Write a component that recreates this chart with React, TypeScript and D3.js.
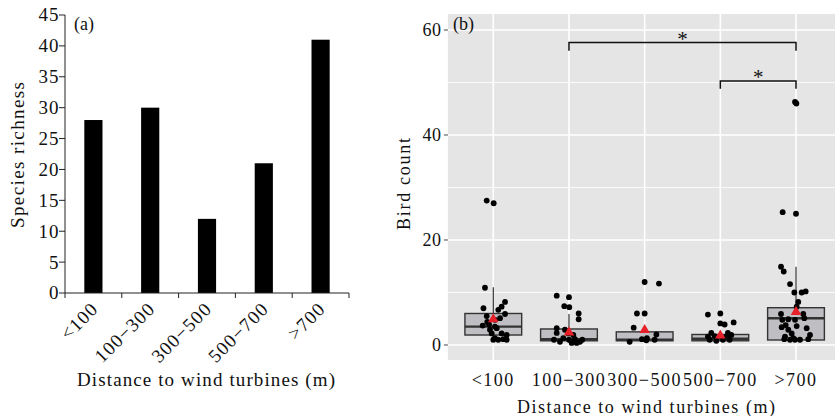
import React from 'react';
import * as d3 from 'd3';

// (a) 物種数
const catsA = ['<100', '100−300', '300−500', '500−700', '>700'];
const richness = [28, 30, 12, 21, 41];
const ticksA = [0, 5, 10, 15, 20, 25, 30, 35, 40, 45];

// (b) 個体数 boxplot
const catsB = ['<100', '100−300', '300−500', '500−700', '>700'];
const q1 = [1.9, 0.8, 0.8, 0.8, 0.95];
const medians = [3.5, 1.1, 1.0, 1.2, 5.1];
const q3 = [6.0, 3.05, 2.5, 2.0, 7.1];
const whiskerLo = [1.0, 0.4, 0.6, 0.8, 1.0];
const whiskerHi = [11, 5.9, 3.3, 2.3, 14.9];
const means = [4.9, 2.4, 2.85, 1.8, 6.3];
const ticksB = [0, 20, 40, 60];
const minorB = [10, 30, 50];

// jitter points: [value, jitter (in category units)]
const pts0 = [
  [27.5, -0.087], [27.0, 0.005], [10.9, -0.11], [8.2, 0.155], [7.3, 0.11], [7.0, -0.13], [6.7, 0.066],
  [5.9, 0.155], [5.1, 0.089], [5.5, -0.087], [4.4, -0.08], [4.8, 0.022], [3.7, -0.14], [3.9, -0.057],
  [3.5, 0.022], [2.9, -0.044], [3.2, 0.045], [2.2, -0.021], [2.2, 0.11], [1.9, 0.177], [1.3, 0.022],
  [1.1, 0.132], [1.0, 0], [1.0, 0.066], [1.0, 0.177],
];
const pts1 = [
  [9.4, -0.162], [9.1, 0], [7.4, -0.062], [7.2, 0.004], [6.0, 0.128], [4.9, 0.128], [3.2, -0.162],
  [2.3, -0.162], [2.9, -0.053], [2.2, -0.009], [1.9, 0.057], [1.0, -0.198], [1.3, -0.075], [1.0, 0],
  [1.1, 0.079], [0.6, 0.145], [1.0, 0.176], [0.6, -0.119], [0.4, 0.036], [0.4, 0.102],
];
const pts2 = [
  [12.0, 0], [11.7, 0.189], [6.0, -0.102], [6.0, 0], [3.3, -0.145], [2.0, 0.155], [0.6, -0.198],
  [1.1, -0.036], [1.3, 0.03], [1.0, 0.132], [0.9, 0.022],
];
const pts3 = [
  [5.8, -0.164], [6.0, 0], [4.1, 0], [3.9, 0.057], [4.3, 0.176], [2.3, -0.119], [2.3, 0.1],
  [1.6, -0.164], [1.7, -0.075], [1.6, 0.079], [1.9, 0.145], [1.0, -0.141], [0.8, -0.053],
  [1.0, 0.034], [1.0, 0.123],
];
const pts4 = [
  [46.3, -0.013], [46.0, 0.005], [25.3, -0.176], [25.0, 0], [14.9, -0.198], [14.0, -0.162],
  [11.6, -0.079], [10.0, -0.022], [10.0, 0.075], [10.2, 0.128], [8.2, 0.03], [7.3, 0.009],
  [5.9, 0.096], [5.9, -0.198], [5.1, 0.11], [4.8, -0.181], [4.9, -0.102], [4.8, -0.013],
  [3.8, -0.136], [3.6, 0.009], [3.2, 0.141], [3.4, -0.189], [2.9, -0.102], [2.2, -0.057],
  [1.9, 0.185], [1.6, -0.145], [1.1, 0.162], [1.1, -0.155], [1.0, -0.079], [1.0, -0.013],
  [1.0, 0.053], [1.3, -0.036],
];
const points = [pts0, pts1, pts2, pts3, pts4];

// 有意差ブラケット
const brackets = [
  { from: 1, to: 4, y: 57.6, low: 56.05, label: '*' },
  { from: 3, to: 4, y: 50.3, low: 48.8, label: '*' },
];

const FONT = '"Liberation Serif", "Times New Roman", serif';

function PanelA() {
  const x = d3.scaleBand().domain(catsA).range([65, 349]).padding(0);
  const y = d3.scaleLinear().domain([0, 45]).range([293, 15]);
  const barW = x.bandwidth() * 0.32;
  const bounds = catsA.map(c => x(c)!).concat([x.range()[1]]);
  return (
    <g fontFamily={FONT} fill="#111">
      {catsA.map((c, i) => (
        <rect key={c} x={x(c)! + x.bandwidth() / 2 - barW / 2} y={y(richness[i])}
          width={barW} height={y(0) - y(richness[i])} fill="#000" />
      ))}
      <line x1={65} x2={65} y1={y(45)} y2={y(0)} stroke="#222" strokeWidth={1} />
      <line x1={65} x2={349} y1={y(0)} y2={y(0)} stroke="#222" strokeWidth={1} />
      {ticksA.map(t => (
        <g key={t}>
          <line x1={59} x2={65} y1={y(t)} y2={y(t)} stroke="#222" />
          <text x={59.5} y={y(t)} dy="0.34em" textAnchor="end" fontSize={19} letterSpacing={1}>{t}</text>
        </g>
      ))}
      {bounds.map((b, i) => (
        <line key={i} x1={b} x2={b} y1={y(0)} y2={y(0) + 5} stroke="#222" />
      ))}
      {catsA.map(c => {
        const cx = x(c)! + x.bandwidth() / 2 + 6;
        return (
          <text key={c} transform={`translate(${cx},310) rotate(-45)`} textAnchor="end"
            fontSize={19} letterSpacing={1.2}>{c}</text>
        );
      })}
      <text x={206} y={386} textAnchor="middle" fontSize={19} textLength={258} lengthAdjust="spacing">
        Distance to wind turbines (m)
      </text>
      <text transform="translate(24,155) rotate(-90)" textAnchor="middle" fontSize={19}
        textLength={146} lengthAdjust="spacing">Species richness</text>
      <text x={74} y={30} fontSize={18}>(a)</text>
    </g>
  );
}

function PanelB() {
  const x = d3.scalePoint().domain(catsB).range([493.3, 796]);
  const step = x.step();
  const y = d3.scaleLinear().domain([-2.86, 63.05]).range([360, 14]);
  const left = x(catsB[0])! - 0.6 * step;
  const right = x(catsB[4])! + 0.6 * step;
  const boxW = step * 0.75;
  const tri = d3.symbol().type(d3.symbolTriangle).size(48)()!;
  return (
    <g fontFamily={FONT}>
      <rect x={left} y={14} width={right - left} height={346} fill="#e5e5e5" />
      {minorB.map(t => (
        <line key={t} x1={left} x2={right} y1={y(t)} y2={y(t)} stroke="#fff" strokeWidth={0.8} />
      ))}
      {ticksB.map(t => (
        <line key={t} x1={left} x2={right} y1={y(t)} y2={y(t)} stroke="#fff" strokeWidth={1.6} />
      ))}
      {catsB.map(c => (
        <line key={c} x1={x(c)} x2={x(c)} y1={14} y2={360} stroke="#fff" strokeWidth={1.6} />
      ))}
      {catsB.map((c, i) => {
        const cx = x(c)!;
        return (
          <g key={c}>
            <line x1={cx} x2={cx} y1={y(q3[i])} y2={y(whiskerHi[i])} stroke="#333" strokeWidth={1.2} />
            <line x1={cx} x2={cx} y1={y(q1[i])} y2={y(whiskerLo[i])} stroke="#333" strokeWidth={1.2} />
            <rect x={cx - boxW / 2} y={y(q3[i])} width={boxW} height={y(q1[i]) - y(q3[i])}
              fill="#bfbfc3" stroke="#333" strokeWidth={1.4} />
            <line x1={cx - boxW / 2} x2={cx + boxW / 2} y1={y(medians[i])} y2={y(medians[i])}
              stroke="#333" strokeWidth={2.4} />
          </g>
        );
      })}
      {points.map((grp, i) => grp.map((p, j) => (
        <circle key={`${i}-${j}`} cx={x(catsB[i])! + p[1] * step} cy={y(p[0])} r={2.9} fill="#000" />
      )))}
      {catsB.map((c, i) => (
        <path key={c} d={tri} transform={`translate(${x(c)},${y(means[i])})`} fill="#e8202a" />
      ))}
      {brackets.map((b, i) => {
        const x1 = x(catsB[b.from])!;
        const x2 = x(catsB[b.to])!;
        return (
          <g key={i}>
            <path d={`M${x1},${y(b.low)}V${y(b.y)}H${x2}V${y(b.low)}`} fill="none" stroke="#111" strokeWidth={1.5} />
            <text x={(x1 + x2) / 2} y={y(b.y) + 3} textAnchor="middle" fontSize={21} fill="#111">{b.label}</text>
          </g>
        );
      })}
      {ticksB.map(t => (
        <g key={t}>
          <line x1={left - 4} x2={left} y1={y(t)} y2={y(t)} stroke="#444" strokeWidth={1} />
          <text x={441.5} y={y(t)} dy="0.34em" textAnchor="end" fontSize={18} letterSpacing={0.5} fill="#111">{t}</text>
        </g>
      ))}
      {catsB.map(c => (
        <text key={c} x={x(c)} y={386} textAnchor="middle" fontSize={18} letterSpacing={1.5} fill="#111">{c}</text>
      ))}
      <text x={646} y={413} textAnchor="middle" fontSize={18} textLength={258} lengthAdjust="spacing" fill="#111">
        Distance to wind turbines (m)
      </text>
      <text transform="translate(410,184) rotate(-90)" textAnchor="middle" fontSize={18}
        textLength={92} lengthAdjust="spacing" fill="#111">Bird count</text>
      <text x={453} y={30} fontSize={18} fill="#111">(b)</text>
    </g>
  );
}

export default function App() {
  return (
    <svg width={835} height={416} viewBox="0 0 835 416"
      style={{ position: 'absolute', left: 0, top: 0, background: '#fff' }}>
      <PanelA />
      <PanelB />
    </svg>
  );
}
